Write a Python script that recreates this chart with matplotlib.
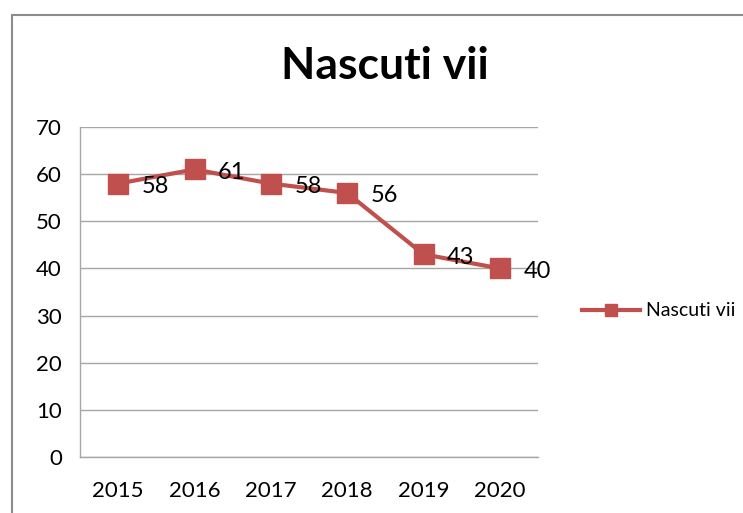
import matplotlib
matplotlib.use("Agg")
import matplotlib.pyplot as plt
from matplotlib.patches import Rectangle

# Data
years = ["2015", "2016", "2017", "2018", "2019", "2020"]
births = [58, 61, 58, 56, 43, 40]
series_name = "Nascuti vii"
yticks = [0, 10, 20, 30, 40, 50, 60, 70]

RED = "#C0504D"
GRID = "#A6A6A6"

plt.rcParams["font.family"] = ["Lato", "DejaVu Sans"]

fig = plt.figure(figsize=(7.43, 5.13), dpi=100)

# Outer chart frame (Excel-style border, cut off at right and bottom)
fig.patches.append(Rectangle((12 / 743, -0.1), 1.1, 1 - 15 / 513 + 0.1,
                             transform=fig.transFigure, fill=False,
                             edgecolor="#8C8C8C", linewidth=1.5))

ax = fig.add_axes([80 / 743, 1 - 457 / 513, 458 / 743, 330 / 513])
x = list(range(len(years)))
ax.plot(x, births, color=RED, linewidth=3, marker="s", markersize=15,
        label=series_name)

for xi, v in zip(x, births):
    ax.annotate(str(v), (xi, v), xytext=(17, -2), textcoords="offset points",
                ha="left", va="center", fontsize=17, color="black")

ax.set_xlim(-0.5, len(years) - 0.5)
ax.set_ylim(0, 70)
ax.set_xticks(x)
ax.set_xticklabels(years)
ax.set_yticks(yticks)
ax.tick_params(axis="both", length=0, labelsize=16, colors="black")
ax.tick_params(axis="y", pad=13)
ax.tick_params(axis="x", pad=17)
ax.grid(axis="y", color=GRID, linewidth=1)
ax.set_axisbelow(True)
for side in ["top", "right"]:
    ax.spines[side].set_visible(False)
for side in ["left", "bottom"]:
    ax.spines[side].set_color(GRID)
    ax.spines[side].set_linewidth(1)

fig.text(385 / 743, 1 - 66 / 513, series_name, ha="center", va="center",
         fontsize=32, fontweight="bold")

fig.legend(loc="center left", bbox_to_anchor=(564 / 743, 1 - 311 / 513),
           frameon=False, fontsize=14, handlelength=3.0, handletextpad=0.3,
           markerscale=0.6)

fig.savefig("out.png", dpi=100)
